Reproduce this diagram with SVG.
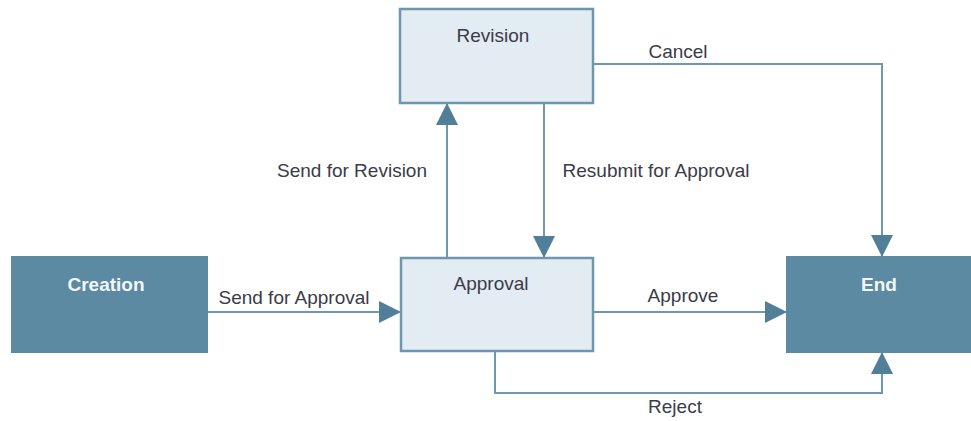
<svg xmlns="http://www.w3.org/2000/svg" width="971" height="421" viewBox="0 0 971 421">
  <style>
    .dark { fill: #5b8aa2; stroke: #5b8aa2; stroke-width: 2; }
    .light { fill: #e3ebf3; stroke: #6e97ae; stroke-width: 2.5; }
    .title-dark { font-family: "Liberation Sans", Arial, sans-serif; font-size: 19px; font-weight: bold; fill: #f4f6f8; text-anchor: middle; }
    .title-light { font-family: "Liberation Sans", Arial, sans-serif; font-size: 19px; fill: #3b3b48; text-anchor: middle; }
    .label { font-family: "Liberation Sans", Arial, sans-serif; font-size: 19px; fill: #3b3b48; text-anchor: middle; }
    .edge { fill: none; stroke: #6e98b0; stroke-width: 2; marker-end: url(#arrow); }
  </style>
  <defs>
    <marker id="arrow" markerUnits="userSpaceOnUse" markerWidth="22" markerHeight="22" viewBox="0 0 20 20" refX="20" refY="10" orient="auto">
      <path d="M0,0 L20,10 L0,20 Z" fill="#527f98"/>
    </marker>
  </defs>
  <rect width="971" height="421" fill="#ffffff"/>

  <g id="connectors">
    <!-- Creation to Approval -->
    <path class="edge" d="M207,312 H401"/>
    <!-- Approval up to Revision -->
    <path class="edge" d="M447,258 V103"/>
    <!-- Revision down to Approval -->
    <path class="edge" d="M544,103 V258"/>
    <!-- Revision to End (cancel) -->
    <path class="edge" d="M593,64 H882 V257"/>
    <!-- Approval to End -->
    <path class="edge" d="M593,312 H787"/>
    <!-- Approval to End (reject) -->
    <path class="edge" d="M495,351 V393 H882 V352"/>
    <text class="label" x="294" y="304">Send for Approval</text>
    <text class="label" x="352" y="177">Send for Revision</text>
    <text class="label" x="656" y="177">Resubmit for Approval</text>
    <text class="label" x="678" y="58">Cancel</text>
    <text class="label" x="683" y="302">Approve</text>
    <text class="label" x="675" y="413">Reject</text>
  </g>

  <g id="creation">
    <rect class="dark" x="12" y="257" width="195" height="95"/>
    <text class="title-dark" x="106" y="291">Creation</text>
  </g>
  <g id="revision">
    <rect class="light" x="400" y="9" width="193" height="94"/>
    <text class="title-light" x="493" y="42">Revision</text>
  </g>
  <g id="approval">
    <rect class="light" x="401" y="258" width="192" height="93"/>
    <text class="title-light" x="491" y="290">Approval</text>
  </g>
  <g id="end">
    <rect class="dark" x="787" y="257" width="195" height="95"/>
    <text class="title-dark" x="879" y="291">End</text>
  </g>
</svg>
